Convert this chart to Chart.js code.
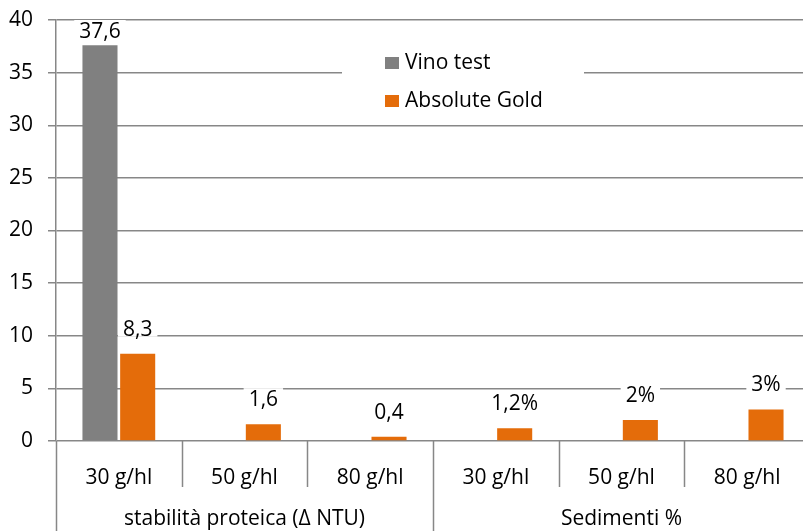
<!DOCTYPE html>
<html>
<head>
<meta charset="utf-8">
<script src="https://cdn.jsdelivr.net/npm/chart.js@4.4.1/dist/chart.umd.min.js"></script>
<style>
  html, body { margin: 0; padding: 0; background: #fff; overflow: hidden; }
  #wrap { width: 810px; height: 531px; }
</style>
</head>
<body>
<div id="wrap"><canvas id="chart" width="810" height="531"></canvas></div>
<script>
// Data
const categories = ['30 g/hl', '50 g/hl', '80 g/hl', '30 g/hl', '50 g/hl', '80 g/hl'];
const groups = ['stabilità proteica (Δ NTU)', 'Sedimenti %'];
const groupSizes = [3, 3];
const vinoTest = [37.6, null, null, null, null, null];
const absoluteGold = [8.3, 1.6, 0.4, 1.2, 2, 3];
const valueSuffix = ['', '', '', '%', '%', '%'];
const yMin = 0;
const yMax = 40;
const yStep = 5;

const FONT = '"Open Sans", sans-serif';
const FONT_SIZE = 21;
const GRID = '#878787';

const fmt = (v, i) => String(v).replace('.', ',') + valueSuffix[i];

// Value labels above the bars, white box behind the text
const valueLabels = {
  id: 'valueLabels',
  afterDatasetsDraw(chart) {
    const { ctx, chartArea } = chart;
    ctx.save();
    ctx.font = `${FONT_SIZE}px ${FONT}`;
    ctx.textAlign = 'center';
    ctx.textBaseline = 'alphabetic';
    chart.data.datasets.forEach((ds, di) => {
      chart.getDatasetMeta(di).data.forEach((bar, i) => {
        const v = ds.data[i];
        if (v === null || v === undefined) return;
        const text = fmt(v, i);
        const w = ctx.measureText(text).width;
        const base = Math.max(bar.y - 18, chartArea.top + 18);
        ctx.fillStyle = '#fff';
        ctx.fillRect(bar.x - w / 2 - 5, base - 18, w + 10, 19);
        ctx.fillStyle = '#000';
        ctx.fillText(text, bar.x, base);
      });
    });
    ctx.restore();
  }
};

// Legend box inside the plot area
const insideLegend = {
  id: 'insideLegend',
  afterDatasetsDraw(chart) {
    const { ctx } = chart;
    ctx.save();
    ctx.fillStyle = '#fff';
    ctx.fillRect(342, 40, 242, 75);
    ctx.font = `${FONT_SIZE}px ${FONT}`;
    ctx.textAlign = 'left';
    ctx.textBaseline = 'middle';
    chart.data.datasets.forEach((ds, i) => {
      const y = 63 + i * 38;
      ctx.fillStyle = ds.backgroundColor;
      ctx.fillRect(385, y - 6, 14, 12);
      ctx.fillStyle = '#000';
      ctx.fillText(ds.label, 405, y);
    });
    ctx.restore();
  }
};

// Category separators and group labels under the x axis
const groupAxis = {
  id: 'groupAxis',
  afterDraw(chart) {
    const { ctx, chartArea, scales, height } = chart;
    const x = scales.x;
    const half = (x.getPixelForValue(1) - x.getPixelForValue(0)) / 2;
    const bounds = [];
    let acc = 0;
    groupSizes.forEach(s => { bounds.push(acc); acc += s; });
    bounds.push(acc);

    ctx.save();
    ctx.strokeStyle = GRID;
    ctx.lineWidth = 1.5;
    for (let i = 0; i <= categories.length; i++) {
      const px = Math.round(x.getPixelForValue(i) - half) + 0.5;
      const end = bounds.includes(i) ? height : chartArea.bottom + 46;
      ctx.beginPath();
      ctx.moveTo(px, chartArea.bottom);
      ctx.lineTo(px, end);
      ctx.stroke();
    }
    ctx.font = `${FONT_SIZE}px ${FONT}`;
    ctx.fillStyle = '#000';
    ctx.textAlign = 'center';
    ctx.textBaseline = 'middle';
    groups.forEach((g, gi) => {
      const a = x.getPixelForValue(bounds[gi]) - half;
      const b = x.getPixelForValue(bounds[gi + 1]) - half;
      ctx.fillText(g, (a + b) / 2, 519);
    });
    ctx.restore();
  }
};

new Chart(document.getElementById('chart').getContext('2d'), {
  type: 'bar',
  data: {
    labels: categories,
    datasets: [
      {
        label: 'Vino test',
        data: vinoTest,
        backgroundColor: '#808080',
        categoryPercentage: 0.6,
        barPercentage: 0.93
      },
      {
        label: 'Absolute Gold',
        data: absoluteGold,
        backgroundColor: '#E46C0A',
        categoryPercentage: 0.6,
        barPercentage: 0.93
      }
    ]
  },
  options: {
    responsive: false,
    animation: false,
    devicePixelRatio: 1,
    layout: { padding: 0 },
    plugins: {
      legend: { display: false },
      tooltip: { enabled: false }
    },
    scales: {
      x: {
        grid: { display: false },
        border: { display: false },
        ticks: {
          color: '#000',
          font: { family: FONT, size: FONT_SIZE },
          padding: 16,
          maxRotation: 0,
          autoSkip: false
        },
        afterFit: (s) => { s.height = 90; }
      },
      y: {
        min: yMin,
        max: yMax,
        ticks: {
          stepSize: yStep,
          color: '#000',
          font: { family: FONT, size: FONT_SIZE },
          padding: 15
        },
        grid: { color: GRID, lineWidth: 1.5, tickLength: 8 },
        border: { display: true, color: GRID, width: 1.5 },
        afterFit: (s) => { s.width = 56; s.paddingTop = 20; }
      }
    }
  },
  plugins: [insideLegend, valueLabels, groupAxis]
});
</script>
</body>
</html>
